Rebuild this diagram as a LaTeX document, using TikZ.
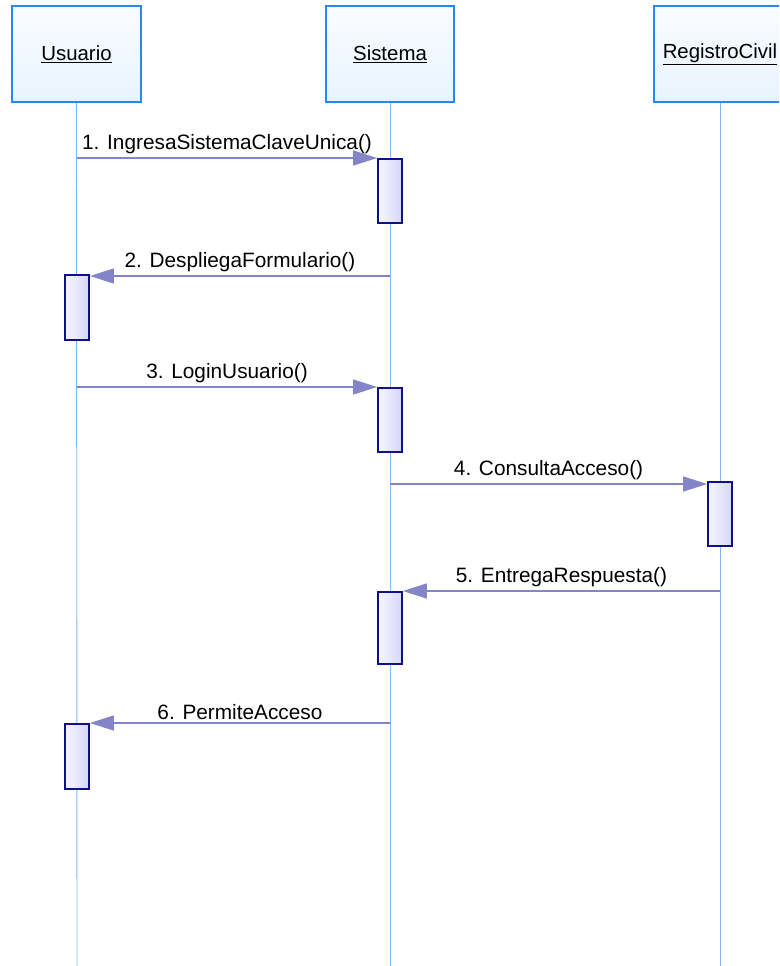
\documentclass[tikz,border=0pt]{standalone}
\usepackage{fontspec}
\setmainfont{Liberation Sans}
\usetikzlibrary{arrows.meta}
\definecolor{hdrborder}{HTML}{2A85F5}
\definecolor{hdrfillA}{HTML}{FAFCFF}
\definecolor{hdrfillB}{HTML}{E8F3FF}
\definecolor{lifecol}{HTML}{7DB8F5}
\definecolor{actborder}{HTML}{10108A}
\definecolor{actfillA}{HTML}{F6F6FF}
\definecolor{actfillB}{HTML}{D6D6FA}
\definecolor{msgcol}{HTML}{8484C8}
\tikzset{
  hdr/.style={draw=hdrborder, line width=2pt, top color=hdrfillA, bottom color=hdrfillB,
    minimum height=96pt, inner sep=0pt, font=\fontsize{20.4pt}{23pt}\selectfont},
  lifeline/.style={draw=lifecol, line width=0.9pt},
  actbox/.style={draw=actborder, line width=1.8pt, left color=actfillA, right color=actfillB,
    minimum width=24pt, inner sep=0pt},
  msg/.style={draw=msgcol, line width=1.4pt, -{Triangle[length=24pt,width=15pt]}},
  msglabel/.style={above, inner sep=1pt, yshift=2pt, font=\fontsize{20.8pt}{23pt}\selectfont}
}
\begin{document}
\begin{tikzpicture}[x=1pt,y=-1pt]
\useasboundingbox (0,0) rectangle (779,966);
\clip (0,0) rectangle (779,966);
\fill[white] (0,0) rectangle (779,966);
% headers
\node[hdr, minimum width=129pt] (U) at (76.5,54) {\underline{Usuario}};
\node[hdr, minimum width=128pt] (S) at (390,54) {\underline{Sistema}};
\node[hdr, minimum width=132pt] (R) at (720,54) {\underline{RegistroCivil}};
% lifeline ends
\coordinate (Uend) at (77,966);
\coordinate (Send) at (390,966);
\coordinate (Rend) at (720,966);
\draw[lifeline] (U.south) -- (Uend);
\draw[lifeline] (S.south) -- (Send);
\draw[lifeline] (R.south) -- (Rend);
% activation boxes
\node[actbox, minimum height=64pt, anchor=north] (sa1) at (390,158) {};
\node[actbox, minimum height=65pt, anchor=north] (ua1) at (77,274) {};
\node[actbox, minimum height=64pt, anchor=north] (sa2) at (390,387) {};
\node[actbox, minimum height=64pt, anchor=north] (ra1) at (720,481) {};
\node[actbox, minimum height=72pt, anchor=north] (sa3) at (390,591) {};
\node[actbox, minimum height=65pt, anchor=north] (ua2) at (77,723) {};
% message start points on lifelines
\coordinate (m1s) at (77,158);
\coordinate (m2s) at (390,276);
\coordinate (m3s) at (77,387);
\coordinate (m4s) at (390,484);
\coordinate (m5s) at (720,591);
\coordinate (m6s) at (390,723);
% messages
\draw[msg] (m1s) -- (sa1.west |- m1s) node[msglabel, midway] {1. IngresaSistemaClaveUnica()};
\draw[msg] (m2s) -- (ua1.east |- m2s) node[msglabel, midway] {2. DespliegaFormulario()};
\draw[msg] (m3s) -- (sa2.west |- m3s) node[msglabel, midway] {3. LoginUsuario()};
\draw[msg] (m4s) -- (ra1.west |- m4s) node[msglabel, midway] {4. ConsultaAcceso()};
\draw[msg] (m5s) -- (sa3.east |- m5s) node[msglabel, midway] {5. EntregaRespuesta()};
\draw[msg] (m6s) -- (ua2.east |- m6s) node[msglabel, midway] {6. PermiteAcceso};
\end{tikzpicture}
\end{document}
